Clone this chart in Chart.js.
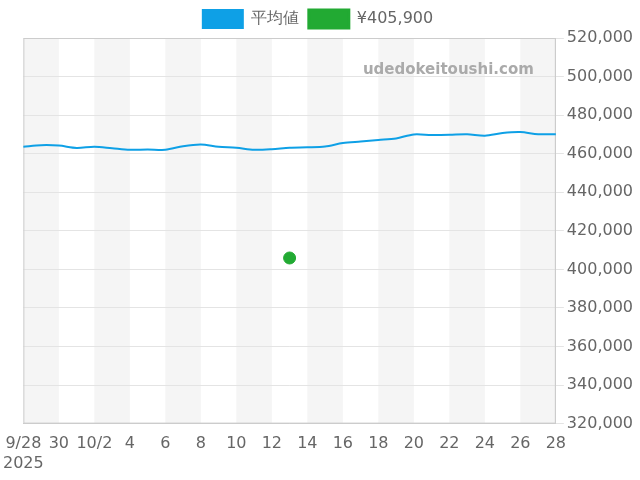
<!DOCTYPE html>
<html><head><meta charset="utf-8">
<script src="https://cdn.jsdelivr.net/npm/chart.js@4"></script>
<style>body{margin:0}#wrap{width:640px;height:480px}</style>
</head><body><div id="wrap"><canvas id="c"></canvas></div>
<script>
const dayLabels = ['9/28','9/29','9/30','10/1','10/2','10/3','10/4','10/5','10/6','10/7','10/8','10/9','10/10','10/11','10/12','10/13','10/14','10/15','10/16','10/17','10/18','10/19','10/20','10/21','10/22','10/23','10/24','10/25','10/26','10/27','10/28'];
const tickLabels = ['9/28','','30','','10/2','','4','','6','','8','','10','','12','','14','','16','','18','','20','','22','','24','','26','','28'];
const avgPrices = [463600,464400,464200,463000,463600,462800,462000,462200,462000,463900,464800,463600,463100,462000,462300,463100,463300,463700,465500,466300,467100,467900,470000,469700,469800,470100,469300,470700,471200,470100,470100];
const salePrices = dayLabels.map((d, i) => i === 15 ? 405900 : null);
const yTicks = [320000, 520000, 20000];

const bands = {
  id: 'bands',
  beforeDraw(chart) {
    const { ctx, chartArea: a, scales: { x } } = chart;
    ctx.save();
    ctx.fillStyle = '#f5f5f5';
    for (let i = 0; i < dayLabels.length - 1; i += 4) {
      const x0 = x.getPixelForValue(i), x1 = x.getPixelForValue(Math.min(i + 2, dayLabels.length - 1));
      ctx.fillRect(x0, a.top, x1 - x0, a.bottom - a.top);
    }
    ctx.restore();
  },
  beforeDatasetsDraw(chart) {
    const { ctx, chartArea: a } = chart;
    ctx.save();
    ctx.strokeStyle = '#ccc';
    ctx.lineWidth = 1;
    ctx.strokeRect(a.left + 0.5, a.top + 0.5, a.right - a.left - 1, a.bottom - a.top - 1);
    ctx.font = 'bold 15px "DejaVu Sans"';
    ctx.fillStyle = '#aaa';
    ctx.textAlign = 'right';
    ctx.fillText('udedokeitoushi.com', a.right - 22, a.top + 32);
    ctx.restore();
  }
};

new Chart(document.getElementById('c'), {
  type: 'line',
  data: {
    labels: dayLabels,
    datasets: [{
      label: '平均値',
      data: avgPrices,
      borderColor: '#0ea0e6',
      backgroundColor: '#0ea0e6',
      borderWidth: 2,
      pointRadius: 0,
      tension: 0.3
    }, {
      label: '¥405,900',
      data: salePrices,
      borderColor: '#22aa33',
      backgroundColor: '#22aa33',
      showLine: false,
      pointRadius: 6
    }]
  },
  options: {
    responsive: true,
    maintainAspectRatio: false,
    animation: false,
    layout: { padding: { left: 0, right: 4, bottom: 4 } },
    plugins: {
      legend: {
        labels: { boxWidth: 40, boxHeight: 18, font: { size: 16, family: 'DejaVu Sans' }, color: '#666' }
      },
      tooltip: { enabled: false }
    },
    scales: {
      x: {
        offset: false,
        grid: { display: false },
        border: { color: '#ccc' },
        ticks: {
          autoSkip: false, maxRotation: 0, color: '#666',
          font: { size: 16, family: 'DejaVu Sans' },
          callback: (v, i) => i === 0 ? [tickLabels[0], '2025'] : (tickLabels[i] || null)
        }
      },
      y: {
        position: 'right',
        min: yTicks[0], max: yTicks[1],
        grid: { color: '#e4e4e4' },
        border: { color: '#ccc' },
        ticks: {
          stepSize: yTicks[2], color: '#666',
          font: { size: 16, family: 'DejaVu Sans' },
          callback: v => v.toLocaleString('en-US')
        }
      }
    }
  },
  plugins: [bands]
});
</script></body></html>
